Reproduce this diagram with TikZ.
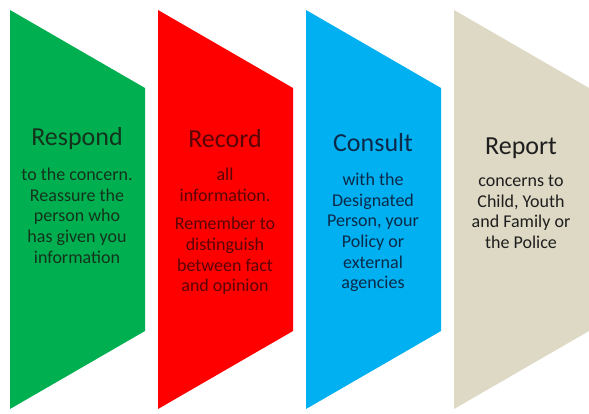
\documentclass[tikz,border=0pt]{standalone}
\usepackage{fontspec}
\setmainfont{Carlito}
\definecolor{stepgreen}{HTML}{00B050}
\definecolor{stepred}{HTML}{FF0000}
\definecolor{stepblue}{HTML}{00B0F0}
\definecolor{steptan}{HTML}{DDD9C4}
\definecolor{inkgreen}{HTML}{14331C}
\definecolor{inkred}{HTML}{5A0505}
\definecolor{inkblue}{HTML}{0B2A4A}
\definecolor{inktan}{HTML}{1E1E1E}
\begin{document}
\begin{tikzpicture}[x=1pt,y=-1pt,
  title/.style={font=\fontsize{26}{30}\selectfont, anchor=center, inner sep=0pt},
  body/.style={font=\fontsize{18}{20.6}\selectfont, align=center, anchor=north, inner sep=0pt}]
\useasboundingbox (0,0) rectangle (589,413);
% chevron-like panels: full-height left edge, bevelled right edge
\foreach \x/\c in {10/stepgreen,158/stepred,306/stepblue,454/steptan}
  \fill[\c] (\x,10) -- (\x+135,88) -- (\x+135,331) -- (\x,409) -- cycle;

% step 1
\node[title, text=inkgreen] (t1) at (77,139) {Respond};
\node[body, text=inkgreen] (b1) at (77,168) {to the concern.\\Reassure the\\person who\\has given you\\information};
% step 2
\node[title, text=inkred] (t2) at (225,139) {Record};
\node[body, text=inkred] (b2) at (225,168) {all\\information.\\[8pt]Remember to\\distinguish\\between fact\\and opinion};
% step 3
\node[title, text=inkblue] (t3) at (373,143) {Consult};
\node[body, text=inkblue] (b3) at (373,173) {with the\\Designated\\Person, your\\Policy or\\external\\agencies};
% step 4
\node[title, text=inktan] (t4) at (521,148) {Report};
\node[body, text=inktan] (b4) at (521,175) {concerns to\\Child, Youth\\and Family or\\the Police};
\end{tikzpicture}
\end{document}
